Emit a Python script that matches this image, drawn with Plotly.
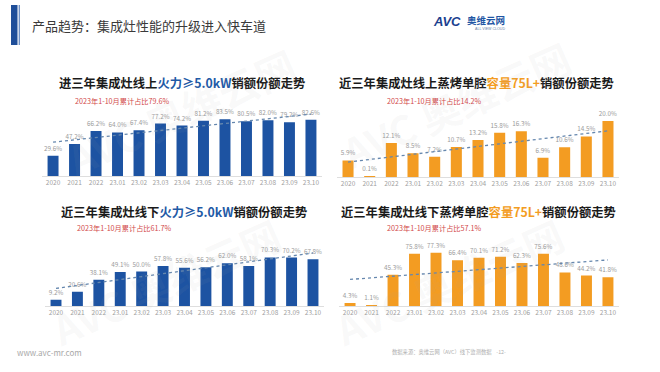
import numpy as np
import plotly.graph_objects as go

categories = ["2020", "2021", "2022", "23.01", "23.02", "23.03", "23.04",
              "23.05", "23.06", "23.07", "23.08", "23.09", "23.10"]
online_power = [29.6, 47.2, 66.2, 64.0, 67.4, 77.2, 74.2, 81.2, 83.5, 80.5, 82.0, 79.2, 82.6]
online_cavity = [5.9, 0.1, 12.1, 8.5, 7.2, 10.7, 13.2, 15.8, 16.3, 6.9, 10.6, 14.5, 20.0]
offline_power = [9.2, 20.6, 38.1, 49.1, 50.0, 57.8, 55.6, 56.2, 62.0, 58.1, 70.3, 70.2, 67.8]
offline_cavity = [4.3, 1.1, 45.3, 75.8, 77.3, 66.4, 70.1, 71.2, 62.3, 75.6, 48.6, 44.2, 41.8]

titles = [
    '<b>进三年集成灶线上<span style="color:#1F5AA6">火力≥5.0kW</span>销额份额走势</b>',
    '<b>近三年集成灶线上蒸烤单腔<span style="color:#F39C22">容量75L+</span>销额份额走势</b>',
    '<b>近三年集成灶线下<span style="color:#1F5AA6">火力≥5.0kW</span>销额份额走势</b>',
    '<b>近三年集成灶线下蒸烤单腔<span style="color:#F39C22">容量75L+</span>销额份额走势</b>',
]
subtitles = ["2023年1-10月累计占比79.6%", "2023年1-10月累计占比14.2%",
             "2023年1-10月累计占比61.7%", "2023年1-10月累计占比57.1%"]

W, H = 660, 372
FONT = "Noto Sans CJK SC"
BLUE = "#1D53A2"
ORANGE = "#F39C22"


def px(x):
    return x / W


def py(y):
    return 1 - y / H


panels = [
    dict(data=online_power, color=BLUE, x0=42.3, x1=321.7, base=176, top=108, ymax=100,
         title_xy=(182, 83), sub_xy=(73, 101)),
    dict(data=online_cavity, color=ORANGE, x0=337.2, x1=618.8, base=177, top=107, ymax=25,
         title_xy=(476, 83), sub_xy=(385, 101)),
    dict(data=offline_power, color=BLUE, x0=45.3, x1=323.7, base=306, top=237, ymax=100,
         title_xy=(184, 212), sub_xy=(75, 228)),
    dict(data=offline_cavity, color=ORANGE, x0=339.3, x1=618.7, base=306, top=237, ymax=100,
         title_xy=(478, 212), sub_xy=(385, 228)),
]

fig = go.Figure()
annotations = []
layout_axes = {}

for i, p in enumerate(panels):
    n = i + 1
    xa = "x" if n == 1 else f"x{n}"
    ya = "y" if n == 1 else f"y{n}"
    fig.add_trace(go.Bar(
        x=categories, y=p["data"], xaxis=xa, yaxis=ya,
        marker=dict(color=p["color"], line=dict(width=0)),
        text=[f"{v:.1f}%" for v in p["data"]], textposition="outside",
        constraintext="none",
        textfont=dict(size=6.3, color="#9a9a9a", family=FONT),
        cliponaxis=False, hoverinfo="skip",
    ))
    idx = np.arange(len(categories))
    slope, icpt = np.polyfit(idx, np.array(p["data"]), 1)
    fig.add_trace(go.Scatter(
        x=categories, y=slope * idx + icpt, xaxis=xa, yaxis=ya, mode="lines",
        line=dict(color="#6587AE", width=1.3, dash="dot"), hoverinfo="skip",
        cliponaxis=False,
    ))
    xkey = "xaxis" if n == 1 else f"xaxis{n}"
    ykey = "yaxis" if n == 1 else f"yaxis{n}"
    layout_axes[xkey] = dict(
        domain=[px(p["x0"]), px(p["x1"])], anchor=ya, type="category",
        range=[-0.5, 12.5], showgrid=False, zeroline=False, showline=True,
        linecolor="#dedede", linewidth=1, ticks="", fixedrange=True,
        tickfont=dict(size=6.5, color="#a0a0a0", family=FONT),
    )
    layout_axes[ykey] = dict(
        domain=[py(p["base"]), py(p["top"])], anchor=xa, range=[0, p["ymax"]],
        visible=False, fixedrange=True,
    )
    tx, ty = p["title_xy"]
    annotations.append(dict(
        text=titles[i], x=px(tx), y=py(ty), xref="paper", yref="paper",
        xanchor="center", yanchor="middle", showarrow=False,
        font=dict(size=12.3, color="#1a1a1a", family=FONT),
    ))
    sx, sy = p["sub_xy"]
    annotations.append(dict(
        text=subtitles[i], x=px(sx), y=py(sy), xref="paper", yref="paper",
        xanchor="left", yanchor="middle", showarrow=False,
        font=dict(size=7.2, color="#D24B4B", family=FONT),
    ))

# header
annotations.append(dict(
    text="产品趋势：集成灶性能的升级进入快车道", x=px(30), y=py(26), xref="paper", yref="paper",
    xanchor="left", yanchor="middle", showarrow=False,
    font=dict(size=13, color="#3a3a3a", family=FONT),
))
annotations.append(dict(
    text="<b><i>AVC</i></b>", x=px(431), y=py(22), xref="paper", yref="paper",
    xanchor="left", yanchor="middle", showarrow=False,
    font=dict(size=13, color="#1B3F8F", family="Liberation Sans"),
))
annotations.append(dict(
    text="<b>奥维云网</b>", x=px(465), y=py(20), xref="paper", yref="paper",
    xanchor="left", yanchor="middle", showarrow=False,
    font=dict(size=9.5, color="#1F56A4", family=FONT),
))
annotations.append(dict(
    text="ALL VIEW CLOUD", x=px(473), y=py(28.5), xref="paper", yref="paper",
    xanchor="left", yanchor="middle", showarrow=False,
    font=dict(size=3.6, color="#6a7fa8", family="Liberation Sans"),
))

# footer
annotations.append(dict(
    text="www.avc-mr.com", x=px(15), y=py(352), xref="paper", yref="paper",
    xanchor="left", yanchor="middle", showarrow=False,
    font=dict(size=8, color="#a8a8a8", family=FONT),
))
annotations.append(dict(
    text="数据来源：奥维云网（AVC）线下监测数据&nbsp;&nbsp;&nbsp;&nbsp;-12-", x=px(508), y=py(352),
    xref="paper", yref="paper", xanchor="right", yanchor="middle", showarrow=False,
    font=dict(size=5.3, color="#b0b0b0", family=FONT),
))

# faint watermarks
for (wx, wy) in [(180, 112), (455, 105), (165, 282), (448, 282)]:
    annotations.append(dict(
        text="<b>AVC 奥维云网</b>", x=px(wx), y=py(wy), xref="paper", yref="paper",
        xanchor="center", yanchor="middle", showarrow=False, textangle=-24,
        font=dict(size=40, color="rgba(170,170,170,0.07)", family=FONT),
    ))

shapes = [
    dict(type="rect", xref="paper", yref="paper", x0=px(11), x1=px(17.5), y0=py(45), y1=py(5),
         fillcolor="#1F4E99", line=dict(width=0)),
    dict(type="rect", xref="paper", yref="paper", x0=px(18.7), x1=px(19.8), y0=py(45), y1=py(5),
         fillcolor="#4F78B8", line=dict(width=0)),
]

fig.update_layout(
    width=W, height=H, margin=dict(l=0, r=0, t=0, b=0),
    paper_bgcolor="white", plot_bgcolor="white", showlegend=False,
    bargap=0.49, annotations=annotations, shapes=shapes,
    font=dict(family=FONT), **layout_axes,
)

fig.write_html("out.html", config={"displayModeBar": False},
               post_script="document.body.style.margin='0';document.body.style.overflow='hidden';")
